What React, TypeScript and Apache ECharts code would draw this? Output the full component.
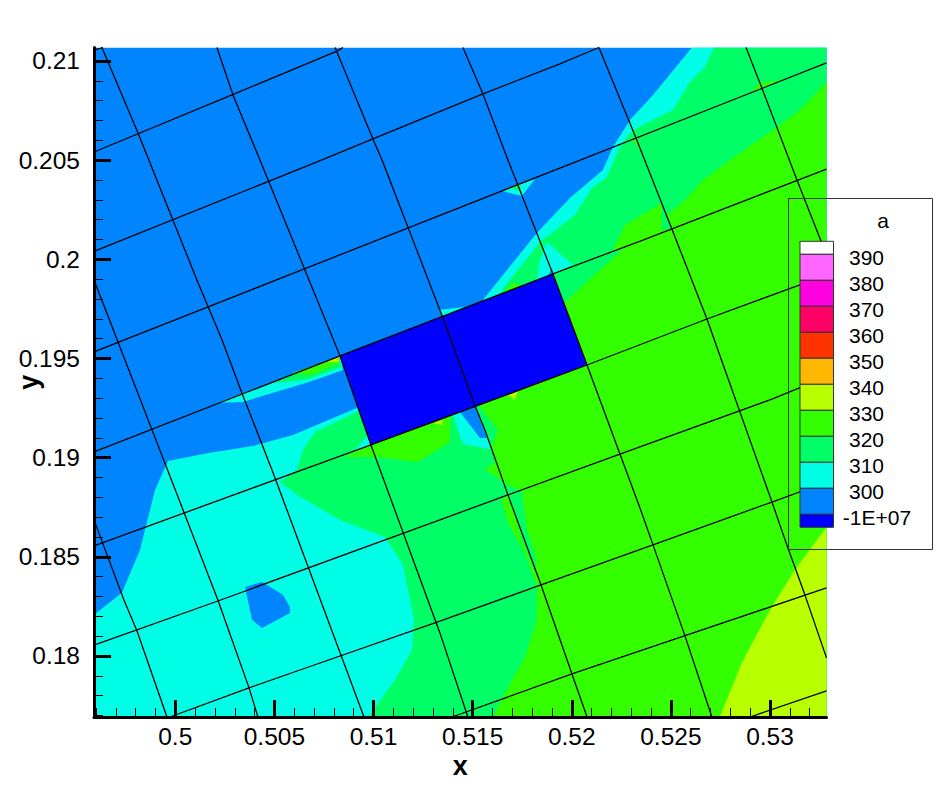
import React, { useEffect, useRef } from "react";
import * as echarts from "echarts";

type Pt = number[];

const X_MIN = 0.4959, X_MAX = 0.53285, Y_MIN = 0.17692, Y_MAX = 0.21068;
const xMajor = [0.5, 0.505, 0.51, 0.515, 0.52, 0.525, 0.53];
const yMajor = [0.18, 0.185, 0.19, 0.195, 0.2, 0.205, 0.21];
const xMinor = [0.496, 0.497, 0.498, 0.499, 0.501, 0.502, 0.503, 0.504, 0.506, 0.507, 0.508, 0.509, 0.511, 0.512, 0.513, 0.514, 0.516, 0.517, 0.518, 0.519, 0.521, 0.522, 0.523, 0.524, 0.526, 0.527, 0.528, 0.529, 0.531, 0.532];
const yMinor = [0.177, 0.178, 0.179, 0.181, 0.182, 0.183, 0.184, 0.186, 0.187, 0.188, 0.189, 0.191, 0.192, 0.193, 0.194, 0.196, 0.197, 0.198, 0.199, 0.201, 0.202, 0.203, 0.204, 0.206, 0.207, 0.208, 0.209];

const legendLabels = ["390", "380", "370", "360", "350", "340", "330", "320", "310", "300", "-1E+07"];
const legendColors = ["#ffffff", "#ff66ff", "#ff00e0", "#ff0066", "#ff3300", "#ffb800", "#b8ff00", "#33ff00", "#00ff66", "#00ffe6", "#0085ff", "#0000ff"];

const C_BG = "#0085ff", C_310 = "#00ffe6", C_320 = "#00ff66", C_330 = "#33ff00", C_340 = "#b8ff00", C_350 = "#ffb800", C_LOW = "#0000ff";

const plotFrame: Pt[] = [[X_MIN, Y_MIN], [X_MAX, Y_MIN], [X_MAX, Y_MAX], [X_MIN, Y_MAX]];
const level310Main: Pt[] = [[0.4959, 0.18207], [0.49731, 0.18318], [0.49822, 0.18534], [0.49898, 0.18837], [0.49963, 0.18983], [0.50175, 0.19024], [0.50392, 0.19059], [0.50594, 0.19114], [0.50916, 0.1925], [0.51552, 0.19795], [0.51824, 0.20133], [0.51991, 0.20309], [0.52157, 0.2045], [0.52208, 0.20566], [0.52294, 0.20703], [0.5241, 0.20829], [0.52606, 0.21068], [0.53285, 0.21068], [0.53285, 0.17692], [0.4959, 0.17692]];
const level320Main: Pt[] = [[0.51628, 0.1982], [0.5184, 0.20087], [0.52016, 0.20223], [0.52102, 0.2036], [0.52177, 0.20415], [0.52243, 0.20566], [0.52309, 0.20652], [0.5251, 0.20753], [0.52596, 0.20894], [0.52672, 0.2097], [0.52717, 0.21068], [0.53285, 0.21068], [0.53285, 0.17692], [0.50972, 0.17692], [0.51108, 0.17879], [0.51194, 0.1803], [0.51204, 0.18182], [0.51149, 0.18459], [0.51058, 0.186], [0.50831, 0.18686], [0.50629, 0.18802], [0.50528, 0.18877], [0.50614, 0.18938], [0.50644, 0.19039], [0.50705, 0.19129], [0.50916, 0.1923], [0.51436, 0.19392]];
const level330Main: Pt[] = [[0.51966, 0.19785], [0.52258, 0.20052], [0.52203, 0.20037], [0.52268, 0.20173], [0.52455, 0.20284], [0.52455, 0.20148], [0.52505, 0.20153], [0.5248, 0.20223], [0.52571, 0.20299], [0.52662, 0.204], [0.52848, 0.20536], [0.53015, 0.20652], [0.53151, 0.20753], [0.53285, 0.20894], [0.53285, 0.17692], [0.51602, 0.17692], [0.51653, 0.17793], [0.51764, 0.17995], [0.51824, 0.18182], [0.51824, 0.18358], [0.51814, 0.18519], [0.51774, 0.18635], [0.51749, 0.18827], [0.51663, 0.18872], [0.51562, 0.18943], [0.51613, 0.18973], [0.51597, 0.19039], [0.51602, 0.19074], [0.51628, 0.19139], [0.51527, 0.19266], [0.51789, 0.19644]];
const level330Band: Pt[] = [[0.51643, 0.18787], [0.51678, 0.18671], [0.51754, 0.18534], [0.51824, 0.18358], [0.5184, 0.18358], [0.51754, 0.1857], [0.51678, 0.18812]];
const level330Left: Pt[] = [[0.50856, 0.19003], [0.50987, 0.19064], [0.51446, 0.19235], [0.51386, 0.192], [0.51386, 0.19079], [0.51224, 0.18978], [0.51017, 0.19003]];
const level340Corner: Pt[] = [[0.53285, 0.1865], [0.53126, 0.18434], [0.53015, 0.18257], [0.52964, 0.18166], [0.52858, 0.17965], [0.52747, 0.17692], [0.53285, 0.17692]];
const level310Wedge: Pt[] = [[0.51401, 0.19215], [0.51512, 0.19261], [0.51597, 0.19039], [0.51451, 0.19069]];
const level300Wedge: Pt[] = [[0.51436, 0.1923], [0.51512, 0.19261], [0.51572, 0.19099], [0.51537, 0.19099]];
const level310Corner: Pt[] = [[0.50896, 0.19029], [0.50972, 0.19114], [0.50992, 0.19064]];
const level310Sliver: Pt[] = [[0.50215, 0.19276], [0.50831, 0.19513], [0.50846, 0.19442], [0.50679, 0.19382], [0.50341, 0.19281]];
const level320Sliver: Pt[] = [[0.50488, 0.19376], [0.50821, 0.19508], [0.50841, 0.19457], [0.50664, 0.19392]];
const level330Sliver: Pt[] = [[0.50589, 0.19427], [0.50816, 0.19503], [0.50831, 0.19477], [0.50679, 0.19417]];
const level340Sliver: Pt[] = [[0.50765, 0.19482], [0.50821, 0.19508], [0.50826, 0.19482]];
const level350Sliver: Pt[] = [[0.508, 0.19497], [0.50826, 0.19508], [0.50826, 0.19492]];
const level310TopEdge: Pt[] = [[0.51335, 0.19745], [0.51461, 0.1976], [0.51345, 0.19709]];
const level310Spur: Pt[] = [[0.51875, 0.20087], [0.52006, 0.19971], [0.51905, 0.19926], [0.51824, 0.19896], [0.5184, 0.19997]];
const level300Spur: Pt[] = [[0.5188, 0.19916], [0.519, 0.19956], [0.51905, 0.19926]];
const level310Island: Pt[] = [[0.51648, 0.20345], [0.51814, 0.20405], [0.51749, 0.20319]];
const level320Island: Pt[] = [[0.51698, 0.2036], [0.51739, 0.20385], [0.51744, 0.2034]];
const level330TopEdge: Pt[] = [[0.51663, 0.19835], [0.51698, 0.19881], [0.51749, 0.19866]];
const level340SpotA: Pt[] = [[0.513, 0.19175], [0.5135, 0.1919], [0.51345, 0.19165]];
const level340SpotB: Pt[] = [[0.51678, 0.19316], [0.51729, 0.19336], [0.51713, 0.19291]];
const level330PatchA: Pt[] = [[0.52899, 0.20844], [0.52949, 0.20889], [0.5305, 0.20904], [0.52959, 0.20864]];
const level330PatchB: Pt[] = [[0.52304, 0.20602], [0.52329, 0.20612], [0.52349, 0.20551]];
const level300Spot: Pt[] = [[0.50352, 0.18348], [0.50437, 0.18373], [0.50543, 0.18308], [0.50579, 0.18247], [0.50579, 0.18217], [0.50437, 0.18141], [0.50387, 0.18182]];
const maskedCell: Pt[] = [[0.50831, 0.19513], [0.51905, 0.19926], [0.52077, 0.19467], [0.50987, 0.19064]];

const regions: { color: string; points: Pt[] }[] = [
  { color: C_BG, points: plotFrame },
  { color: C_310, points: level310Main },
  { color: C_320, points: level320Main },
  { color: C_330, points: level330Main },
  { color: C_330, points: level330Band },
  { color: C_330, points: level330Left },
  { color: C_340, points: level340Corner },
  { color: C_310, points: level310Wedge },
  { color: C_BG, points: level300Wedge },
  { color: C_310, points: level310Corner },
  { color: C_310, points: level310Sliver },
  { color: C_320, points: level320Sliver },
  { color: C_330, points: level330Sliver },
  { color: C_340, points: level340Sliver },
  { color: C_350, points: level350Sliver },
  { color: C_310, points: level310TopEdge },
  { color: C_310, points: level310Spur },
  { color: C_BG, points: level300Spur },
  { color: C_310, points: level310Island },
  { color: C_320, points: level320Island },
  { color: C_330, points: level330TopEdge },
  { color: C_340, points: level340SpotA },
  { color: C_340, points: level340SpotB },
  { color: C_330, points: level330PatchA },
  { color: C_330, points: level330PatchB },
  { color: C_BG, points: level300Spot },
  { color: C_LOW, points: maskedCell },
];

const meshRows: Pt[][] = [
  [[0.4959, 0.21055], [0.49635, 0.21068]],
  [[0.4959, 0.20541], [0.50286, 0.20829], [0.50816, 0.2105], [0.50846, 0.21068]],
  [[0.4959, 0.2004], [0.5074, 0.20501], [0.50997, 0.20607], [0.51552, 0.20834], [0.5194, 0.20985], [0.52137, 0.21068]],
  [[0.4959, 0.19533], [0.5194, 0.2046], [0.53285, 0.2099]],
  [[0.4959, 0.19029], [0.50831, 0.19513], [0.51905, 0.19926], [0.52359, 0.20097], [0.53285, 0.20455]],
  [[0.4959, 0.18555], [0.50987, 0.19064], [0.52077, 0.19467], [0.52682, 0.19699], [0.53151, 0.19871], [0.53285, 0.19926]],
  [[0.4959, 0.18055], [0.50215, 0.18277], [0.51335, 0.18686], [0.51678, 0.18812], [0.52243, 0.19018], [0.53, 0.19291], [0.53285, 0.19407]],
  [[0.49973, 0.17692], [0.50372, 0.17839], [0.50629, 0.17929], [0.51335, 0.18176], [0.51845, 0.18358], [0.5241, 0.1856], [0.5301, 0.18776], [0.53285, 0.18877]],
  [[0.51396, 0.17692], [0.52001, 0.17909], [0.52344, 0.18025], [0.53285, 0.18343]],
  [[0.52899, 0.17692], [0.53285, 0.17824]],
];
const meshColumns: Pt[][] = [
  [[0.4959, 0.18686], [0.49741, 0.18282], [0.49807, 0.18126], [0.49958, 0.17692]],
  [[0.4959, 0.19896], [0.50215, 0.18282], [0.50372, 0.17839], [0.50417, 0.17692]],
  [[0.4963, 0.21068], [0.49812, 0.20637], [0.49988, 0.20198], [0.50109, 0.19896], [0.50236, 0.19593], [0.50336, 0.19326], [0.50488, 0.18938], [0.50952, 0.17692]],
  [[0.5021, 0.21068], [0.50291, 0.20829], [0.50427, 0.20501], [0.50831, 0.19513], [0.50987, 0.19064], [0.51335, 0.18116], [0.51476, 0.17692]],
  [[0.50806, 0.21068], [0.50997, 0.20607], [0.51043, 0.20501], [0.5135, 0.19704], [0.51512, 0.19261], [0.51562, 0.19139], [0.51678, 0.18812], [0.51845, 0.18358], [0.52001, 0.17909], [0.52077, 0.17692]],
  [[0.51451, 0.21068], [0.51552, 0.20834], [0.51678, 0.20501], [0.51698, 0.2045], [0.51905, 0.19926], [0.52077, 0.19467], [0.52243, 0.19018], [0.52344, 0.18746], [0.5241, 0.1856], [0.52571, 0.18101], [0.52707, 0.17692]],
  [[0.52137, 0.21068], [0.52324, 0.20612], [0.52505, 0.20153], [0.52682, 0.19699], [0.52773, 0.19442], [0.5301, 0.18776], [0.5309, 0.18545], [0.53176, 0.18308], [0.53285, 0.1799]],
  [[0.52879, 0.21068], [0.52959, 0.20864], [0.53136, 0.204], [0.53285, 0.20022]],
];

const FONT = '"Liberation Sans", Arial, sans-serif';

export default function App() {
  const ref = useRef<HTMLDivElement>(null);
  useEffect(() => {
    const chart = echarts.init(ref.current!, null, { renderer: "svg" });
    const barLeft = 800, barTop = 241.3, barW = 33.5, step = 26;
    const graphics: any[] = [];
    legendColors.forEach((color, i) => {
      const first = i === 0, last = i === legendColors.length - 1;
      const y = first ? barTop : barTop + 13 + (i - 1) * step;
      const h = first || last ? 13 : step;
      graphics.push({ type: "rect", z: 20, shape: { x: barLeft, y, width: barW, height: h }, style: { fill: color, stroke: "#333", lineWidth: 1 } });
    });
    legendLabels.forEach((t, i) => {
      graphics.push({ type: "text", z: 20, x: t.length > 3 ? 877 : 866.5, y: barTop + 16 + i * step, style: { text: t, fill: "#000", font: `21px ${FONT}`, textAlign: "center", textVerticalAlign: "middle" } });
    });
    graphics.push({ type: "rect", z: 20, shape: { x: 788.5, y: 198.5, width: 144, height: 351 }, style: { fill: "none", stroke: "#333", lineWidth: 1 } });
    graphics.push({ type: "text", z: 20, x: 883, y: 220, style: { text: "a", fill: "#000", font: `21px ${FONT}`, textAlign: "center", textVerticalAlign: "middle" } });

    const lineSeries = [...meshRows, ...meshColumns].map((pts) => ({
      type: "line", data: pts, showSymbol: false, silent: true, z: 5, clip: true,
      lineStyle: { color: "#000", width: 1.3 },
    }));

    chart.setOption({
      animation: false,
      backgroundColor: "#fff",
      grid: { left: 94, top: 47.5, width: 732.5, height: 669.5, outerBoundsMode: "none", containLabel: false },
      xAxis: [
        {
          type: "value", min: X_MIN, max: X_MAX, z: 10, splitLine: { show: false },
          name: "x", nameLocation: "middle", nameGap: 35, nameMoveOverlap: false,
          nameTextStyle: { fontFamily: FONT, fontWeight: "bold", fontSize: 27, color: "#000" },
          axisLine: { show: true, onZero: false, lineStyle: { color: "#000", width: 3 } },
          axisTick: { show: true, inside: true, length: 17, customValues: xMajor, lineStyle: { color: "#000", width: 3 } },
          axisLabel: { show: true, customValues: xMajor, margin: 7, fontFamily: FONT, fontSize: 24.5, color: "#000" },
        },
        {
          type: "value", min: X_MIN, max: X_MAX, z: 10, position: "bottom", splitLine: { show: false },
          axisLine: { show: false }, axisLabel: { show: false },
          axisTick: { show: true, inside: true, length: 9, customValues: xMinor, lineStyle: { color: "#000", width: 1 } },
        },
      ],
      yAxis: [
        {
          type: "value", min: Y_MIN, max: Y_MAX, z: 10, splitLine: { show: false },
          name: "y", nameLocation: "middle", nameGap: 52, nameMoveOverlap: false,
          nameTextStyle: { fontFamily: FONT, fontWeight: "bold", fontSize: 27, color: "#000" },
          axisLine: { show: true, onZero: false, lineStyle: { color: "#000", width: 3 } },
          axisTick: { show: true, inside: true, length: 17, customValues: yMajor, lineStyle: { color: "#000", width: 3 } },
          axisLabel: { show: true, customValues: yMajor, margin: 14, fontFamily: FONT, fontSize: 24.5, color: "#000" },
        },
        {
          type: "value", min: Y_MIN, max: Y_MAX, z: 10, position: "left", splitLine: { show: false },
          axisLine: { show: false }, axisLabel: { show: false },
          axisTick: { show: true, inside: true, length: 9, customValues: yMinor, lineStyle: { color: "#000", width: 1 } },
        },
      ],
      series: [
        {
          type: "custom", clip: true, silent: true, z: 2,
          data: regions.map((_, i) => [i]),
          renderItem: (params: any, api: any) => {
            const r = regions[params.dataIndex];
            return { type: "polygon", shape: { points: r.points.map((p) => api.coord(p)) }, style: { fill: r.color } };
          },
        },
        ...lineSeries,
      ],
      graphic: graphics,
    });
    return () => chart.dispose();
  }, []);
  return <div ref={ref} style={{ position: "fixed", left: 0, top: 0, width: 939, height: 805 }} />;
}
